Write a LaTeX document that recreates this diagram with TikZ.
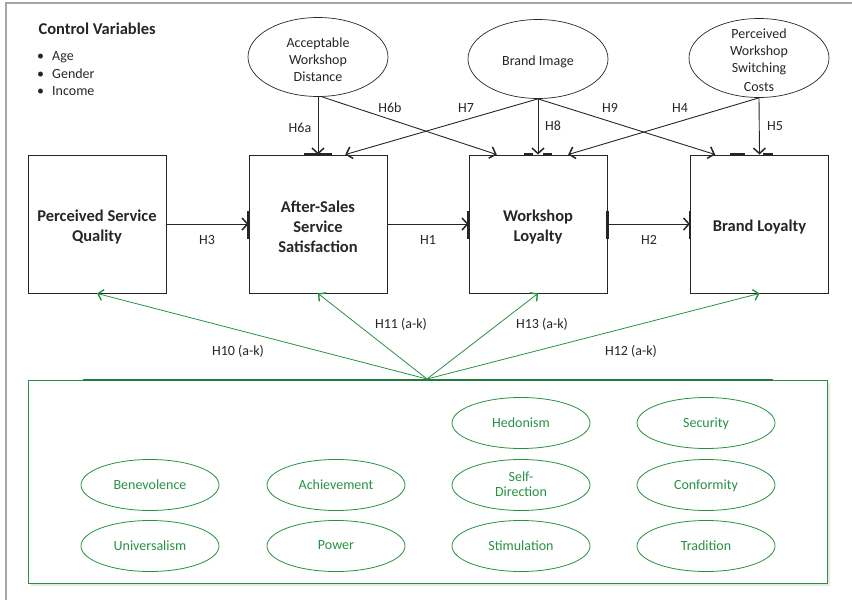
\documentclass[tikz,border=0pt]{standalone}
\usepackage{fontspec}
\setmainfont{Carlito}
\usetikzlibrary{shapes.geometric,arrows.meta,calc}
\definecolor{ink}{RGB}{38,38,38}
\definecolor{leaf}{RGB}{38,146,66}
\definecolor{framegray}{RGB}{165,165,165}

\begin{document}
\begin{tikzpicture}[x=1pt,y=-1pt,
  construct/.style={draw=ink, line width=0.9pt, minimum width=138pt, minimum height=138pt, inner sep=0pt},
  clabel/.style={align=center, inner sep=0pt, font=\fontsize{16.5}{20}\selectfont\bfseries, text=ink},
  factor/.style={ellipse, draw=ink, line width=0.7pt, minimum width=140pt, minimum height=79pt, inner sep=0pt},
  flabel/.style={align=center, inner sep=0pt, font=\fontsize{14}{17}\selectfont, text=ink},
  value/.style={ellipse, draw=leaf, line width=0.8pt, minimum width=138pt, minimum height=51pt,
    inner sep=0pt, align=center, font=\fontsize{14}{15}\selectfont, text=leaf, text depth=1.5pt},
  hyp/.style={font=\fontsize{14}{17}\selectfont, text=ink, inner sep=1pt},
  link/.style={draw=ink, line width=0.9pt, -{Straight Barb[length=5.5pt,width=12pt,line width=1.5pt]}},
  glink/.style={draw=leaf, line width=0.8pt, -{Straight Barb[length=5pt,width=11pt,line width=1.4pt]}},
  port/.style={ink, line width=2.4pt},
]
\useasboundingbox (0,0) rectangle (852,600);

% page frame
\draw[framegray, line width=1.4pt] (6,600) -- (6,3) -- (852,3);

% control variables
\node[anchor=west, font=\fontsize{16.5}{20}\selectfont\bfseries, text=ink] (ctrl) at (35,29) {Control Variables};
\node[anchor=west, hyp] (cv1) at (36,57) {\makebox[15pt][l]{•}Age};
\node[anchor=west, hyp] (cv2) at (36,74) {\makebox[15pt][l]{•}Gender};
\node[anchor=west, hyp] (cv3) at (36,91) {\makebox[15pt][l]{•}Income};

% main constructs
\node[construct] (psq) at (97,224) {};
\node[construct] (ass) at (318,224) {};
\node[construct] (wl) at (538,224) {};
\node[construct] (bl) at (759.5,224) {};
\node[clabel] (psqt) at ($(psq)+(0,3)$) {Perceived Service\\Quality};
\node[clabel] (asst) at ($(ass)+(0,2.5)$) {After-Sales\\Service\\Satisfaction};
\node[clabel] (wlt) at ($(wl)+(0,3)$) {Workshop\\Loyalty};
\node[clabel] (blt) at ($(bl)+(0,3.5)$) {Brand Loyalty};

% antecedents
\node[factor] (awd) at (318,57) {};
\node[factor] (bi) at (538,59) {};
\node[factor] (pwsc) at (759,58) {};
\node[flabel] (awdt) at ($(awd)+(0,3)$) {Acceptable\\Workshop\\Distance};
\node[flabel] (bit) at ($(bi)+(0,3)$) {Brand Image};
\node[flabel] (pwsct) at ($(pwsc)+(0,2)$) {Perceived\\Workshop\\Switching\\[2pt]Costs};

% connection points on the construct edges
\draw[port] ($(ass.west)+(0,-13)$) -- ($(ass.west)+(0,15)$);
\draw[port] ($(wl.west)+(0,-13)$) -- ($(wl.west)+(0,15)$);
\draw[port] ($(wl.east)+(0,-13)$) -- ($(wl.east)+(0,15)$);
\draw[port] ($(bl.west)+(0,-13)$) -- ($(bl.west)+(0,15)$);
\draw[port] ($(ass.north)+(-14,0)$) -- ($(ass.north)+(14,0)$);
\draw[port] ($(wl.north)+(-14,0)$) -- ($(wl.north)+(-5,0)$);
\draw[port] ($(wl.north)+(5,0)$) -- ($(wl.north)+(14,0)$);
\draw[port] ($(bl.north)+(-29.5,0)$) -- ($(bl.north)+(-14.5,0)$);
\draw[port] ($(bl.north)+(3.5,0)$) -- ($(bl.north)+(13.5,0)$);

% main paths
\draw[link] (psq.east) -- (ass.west);
\draw[link] (ass.east) -- (wl.west);
\draw[link] (wl.east) -- (bl.west);

% antecedent paths
\draw[link] (awd.south) -- (ass.north);
\draw[link] ($(awd.south)+(4,0)$) -- ($(wl.north west)!0.203!(wl.north east)$);
\draw[link] (bi.south) -- ($(ass.north west)!0.696!(ass.north east)$);
\draw[link] (bi.south) -- (wl.north);
\draw[link] (bi.south) -- ($(bl.north west)!0.181!(bl.north east)$);
\draw[link] (pwsc.south) -- ($(wl.north west)!0.717!(wl.north east)$);
\draw[link] (pwsc.south) -- (bl.north);

% hypothesis labels
\node[hyp] (h3) at (207,240) {H3};
\node[hyp] (h1) at (428,240) {H1};
\node[hyp] (h2) at (649,240) {H2};
\node[hyp] (h6a) at (300,128) {H6a};
\node[hyp] (h6b) at (390,108) {H6b};
\node[hyp] (h7) at (466,108) {H7};
\node[hyp] (h8) at (553,126) {H8};
\node[hyp] (h9) at (610,108) {H9};
\node[hyp] (h4) at (680,108) {H4};
\node[hyp] (h5) at (775,126) {H5};

% personal values block
\fill[black!9] (31,383) rectangle (830,586);
\draw[leaf, line width=0.9pt, fill=white] (28,380) rectangle (827,583);
\draw[leaf!85!black, line width=2.2pt] (83,380) -- (773,380);
\coordinate (hub) at (427,379);

\node[value] (hed) at (521,423) {Hedonism};
\node[value] (sec) at (706,423) {Security};
\node[value] (ben) at (150,485) {Benevolence};
\node[value] (ach) at (336,485) {Achievement};
\node[value] (sd) at (521,485) {Self-\\Direction};
\node[value] (con) at (706,485) {Conformity};
\node[value] (uni) at (150,546) {Universalism};
\node[value] (pow) at (336,546) {Power};
\node[value] (sti) at (521,546) {Stimulation};
\node[value] (tra) at (706,546) {Tradition};

% moderating paths
\draw[glink] (hub) -- (psq.south);
\draw[glink] (hub) -- (ass.south);
\draw[glink] (hub) -- (wl.south);
\draw[glink] (hub) -- (bl.south);
\node[hyp] (h10) at (238,351) {H10 (a-k)};
\node[hyp] (h11) at (401,324) {H11 (a-k)};
\node[hyp] (h13) at (542,324) {H13 (a-k)};
\node[hyp] (h12) at (631,351) {H12 (a-k)};
\end{tikzpicture}
\end{document}
